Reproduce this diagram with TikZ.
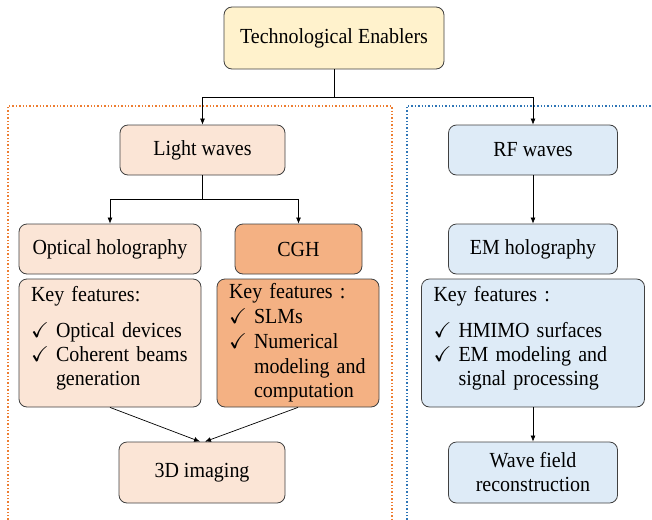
\documentclass[tikz,border=0pt]{standalone}
\usepackage{amssymb}
\usepackage{fontspec}
\setmainfont{Liberation Serif}[FakeStretch=0.93]
\usetikzlibrary{arrows.meta}

\definecolor{enablerfill}{HTML}{FFF2CC}
\definecolor{lightfill}{HTML}{FBE5D6}
\definecolor{cghfill}{HTML}{F4B183}
\definecolor{rffill}{HTML}{DEEBF7}
\definecolor{lightframe}{HTML}{ED7D31}
\definecolor{rfframe}{HTML}{2E75B6}

\newcommand{\featck}{\makebox[25pt][l]{\checkmark}}
\newcommand{\featgap}{\hspace*{25pt}}
\newcommand{\kfstrut}{\rule[-14pt]{0pt}{1pt}}

\begin{document}
\begin{tikzpicture}[x=1pt, y=-1pt,
    >={Latex[length=6pt,width=5pt]},
    box/.style={draw=black!75, line width=0.8pt, rounded corners=8pt,
        font=\fontsize{21.5}{24}\selectfont, align=center, inner sep=0pt},
    featbox/.style={box, align=left, inner xsep=12pt, inner ysep=0pt},
    frame/.style={dotted, line width=1.4pt}]
    \useasboundingbox (0,0) rectangle (652,519);

    % dotted frames
    \draw[frame, lightframe] (8,530) -- (8,106) -- (392,106) -- (392,530);
    \draw[frame, rfframe] (407,530) -- (407,106) -- (660,106);

    \node[box, fill=enablerfill, minimum width=220pt, minimum height=62pt] (enabler) at (334,38) {Technological Enablers};

    % light waves side
    \node[box, fill=lightfill, minimum width=165pt, minimum height=50pt] (light) at (202.5,150) {Light waves};
    \node[box, fill=lightfill, minimum width=182pt, minimum height=50pt] (optholo) at (110,249) {Optical holography};
    \node[box, fill=cghfill, minimum width=127pt, minimum height=50pt] (cgh) at (298.5,249) {CGH};
    \node[featbox, fill=lightfill, text width=158pt, minimum height=128pt] (optfeat) at (110,343)
        {Key features:\\[12pt] \featck Optical devices\\ \featck Coherent beams\\ \featgap generation\kfstrut};
    \node[featbox, fill=cghfill, text width=138pt, minimum height=128pt] (cghfeat) at (298,343)
        {Key features :\\[0.8pt] \featck SLMs\\[0.8pt] \featck Numerical\\[0.8pt] \featgap modeling and\\[0.8pt] \featgap computation};
    \node[box, fill=lightfill, minimum width=166pt, minimum height=61pt] (imaging) at (202,472.5) {3D imaging};

    % RF waves side
    \node[box, fill=rffill, minimum width=169pt, minimum height=50pt] (rf) at (533,150) {RF waves};
    \node[box, fill=rffill, minimum width=169pt, minimum height=50pt] (emholo) at (533,249) {EM holography};
    \node[featbox, fill=rffill, text width=199pt, minimum height=128pt] (emfeat) at (533,343)
        {Key features :\\[12pt] \featck HMIMO surfaces\\ \featck EM modeling and\\ \featgap signal processing\kfstrut};
    \node[box, fill=rffill, minimum width=169pt, minimum height=61pt] (wave) at (533,472.5) {Wave field\\reconstruction};

    % connectors
    \draw[->, line width=0.7pt] (enabler.south) -- ++(0,28) -| (light.north);
    \draw[->, line width=0.7pt] (enabler.south) -- ++(0,28) -| (rf.north);
    \draw[->, line width=0.7pt] (light.south) -- ++(0,24) -| (optholo.north);
    \draw[->, line width=0.7pt] (light.south) -- ++(0,24) -| (cgh.north);
    \draw[->, line width=0.7pt] (optfeat.south) -- ([xshift=-2pt]imaging.north);
    \draw[->, line width=0.7pt] (cghfeat.south) -- ([xshift=3pt]imaging.north);
    \draw[->, line width=0.7pt] (rf.south) -- (emholo.north);
    \draw[->, line width=0.7pt] (emfeat.south) -- (wave.north);
\end{tikzpicture}
\end{document}
